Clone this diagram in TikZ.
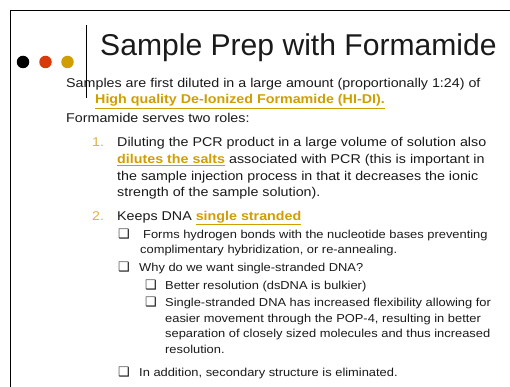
\documentclass[tikz,border=0pt]{standalone}
\usepackage{fontspec}
\usepackage{graphicx}
\setmainfont{Liberation Sans}
\newfontfamily\dejavu{DejaVu Sans}
\definecolor{gold}{HTML}{D09E00}
\definecolor{numgold}{HTML}{E2B040}
\definecolor{dotred}{HTML}{D83A0A}
\definecolor{txt}{HTML}{1A1A1A}
\newcommand\sx[1]{\scalebox{1.12}[1]{#1}}
\newcommand\gu[1]{\textcolor{gold}{\underline{\textbf{#1}}}}
\begin{document}
\begin{tikzpicture}[x=1pt,y=-1pt,
  ln/.style={anchor=base west,inner sep=0pt,text=txt},
  body/.style={ln,font=\fontsize{12.75}{14}\selectfont},
  sub/.style={ln,font=\fontsize{11.5}{13}\selectfont},
  num/.style={ln,text=numgold,font=\fontsize{12.7}{14}\selectfont},
  box/.style={ln,font=\dejavu\fontsize{13}{14}\selectfont},
  dot/.style={circle,inner sep=0pt,minimum size=12.5pt}]
\useasboundingbox (0,0) rectangle (510,387);
% frame
\draw[line width=1pt] (10.5,10.5) -- (512,10.5);
\draw[line width=1.3pt] (10.5,10) -- (10.5,390);
% dots and rule
\node[dot,fill=black] (d1) at (23,62) {};
\node[dot,fill=dotred] (d2) at (45.5,62) {};
\node[dot,fill=gold] (d3) at (67.5,62) {};
\draw[line width=0.9pt] (86.5,25) -- (86.5,98);
% title
\node[ln,font=\fontsize{30.1}{32}\selectfont] (title) at (100,56) {Sample Prep with Formamide};
% body
\node[body] (l1) at (66,88) {\sx{Samples are first diluted in a large amount (proportionally 1:24) of}};
\node[body,text=gold] (l2) at (95,104) {\sx{\gu{High quality De-Ionized Formamide (HI-DI).}}};
\node[body] (l3) at (66,123) {\sx{Formamide serves two roles:}};
\node[num] (n1) at (92,147) {\sx{1.}};
\node[body] (a1) at (117,147) {\sx{Diluting the PCR product in a large volume of solution also}};
\node[body] (a2) at (117,164) {\sx{\gu{dilutes the salts} associated with PCR (this is important in}};
\node[body] (a3) at (117,180.5) {\sx{the sample injection process in that it decreases the ionic}};
\node[body] (a4) at (117,196.5) {\sx{strength of the sample solution).}};
\node[num] (n2) at (92,220) {\sx{2.}};
\node[body] (b1) at (117,220) {\sx{Keeps DNA \gu{single stranded}}};
\node[box] (c1) at (118,238) {❑};
\node[sub] (c1a) at (143,238) {\sx{Forms hydrogen bonds with the nucleotide bases preventing}};
\node[sub] (c1b) at (140,253) {\sx{complimentary hybridization, or re-annealing.}};
\node[box] (c2) at (118,271) {❑};
\node[sub] (c2a) at (139,271) {\sx{Why do we want single-stranded DNA?}};
\node[box] (e1) at (145,289) {❑};
\node[sub] (e1a) at (165,289) {\sx{Better resolution (dsDNA is bulkier)}};
\node[box] (e2) at (145,306) {❑};
\node[sub] (e2a) at (165,306) {\sx{Single-stranded DNA has increased flexibility allowing for}};
\node[sub] (e2b) at (165,322) {\sx{easier movement through the POP-4, resulting in better}};
\node[sub] (e2c) at (165,337) {\sx{separation of closely sized molecules and thus increased}};
\node[sub] (e2d) at (165,353) {\sx{resolution.}};
\node[box] (c3) at (118,376) {❑};
\node[sub] (c3a) at (139,376) {\sx{In addition, secondary structure is eliminated.}};
\end{tikzpicture}
\end{document}
